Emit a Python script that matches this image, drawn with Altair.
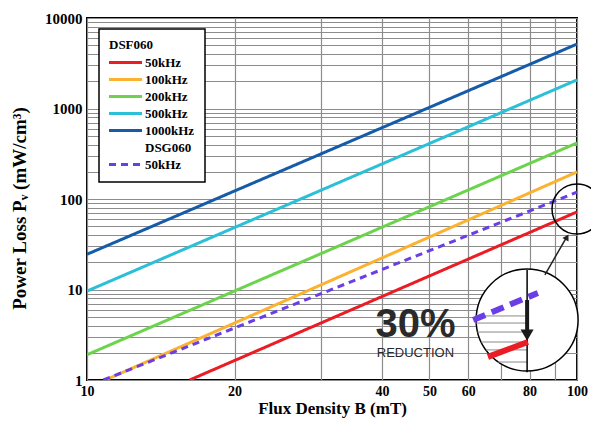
import altair as alt
import pandas as pd

# ---- legend / series definitions ----
legend_domain = ["50kHz", "100kHz", "200kHz", "500kHz", "1000kHz", "DSG060", "DSG 50kHz"]
legend_colors = ["#ea1c24", "#fdb22f", "#6cd44c", "#2bbfd8", "#155ba9", "#ffffff", "#6a3ee6"]
legend_dashes = [[1, 0], [1, 0], [1, 0], [1, 0], [1, 0], [1, 0], [7, 5]]

# ---- data (straight lines on log-log axes) ----
line_names = ["50kHz", "100kHz", "200kHz", "500kHz", "1000kHz", "DSG 50kHz"]
b_start = [16.2, 10.9, 10, 10, 10, 10.8]
p_start = [1.0, 1.0, 1.9, 9.6, 24.5, 1.0]
b_end = [100, 100, 100, 100, 100, 100]
p_end = [72, 199, 416, 2070, 5150, 119]

# axis ticks
x_ticks = [10, 20, 30, 40, 50, 60, 70, 80, 90, 100]
x_labels = [10, 20, 40, 50, 60, 80, 100]
y_ticks = [m * 10 ** e for e in range(4) for m in range(1, 10)] + [10000]
y_labels = [1, 10, 100, 1000, 10000]

# ---- inset annotation (data coordinates) ----
small_circle_b, small_circle_p = [100], [77.5]
big_circle_b, big_circle_p = [79.1], [4.6]
zoom_purple = {"B": [61.4], "P": [4.6], "B2": [83.2], "P2": [9.15]}
zoom_red = {"B": [65.8], "P": [1.80], "B2": [79.4], "P2": [2.63]}
zoom_vline = {"B": [79.1], "P": [1.22], "P2": [16.4]}
zoom_grid_p = [5.10, 4.26, 3.39, 2.63, 2.15, 1.58]
zoom_grid_b = [62.2, 62.2, 62.6, 63.7, 65.2, 69.0]
drop_arrow = {"B": [79.1], "P": [7.65], "P2": [3.3]}
drop_head = {"B": [79.1], "P": [3.14]}
pointer = {"B": [86.0], "P": [14.5], "B2": [95.0], "P2": [37.0]}
pointer_head = {"B": [95.4], "P": [38.0]}
pct_text = {"B": [46.8], "P": [4.1], "t": ["30%"]}
red_text = {"B": [46.8], "P": [2.0], "t": ["REDUCTION"]}

rows = []
for n, b0, p0, b1, p1 in zip(line_names, b_start, p_start, b_end, p_end):
    rows.append({"series": n, "B": b0, "P": p0, "o": 0})
    rows.append({"series": n, "B": b1, "P": p1, "o": 1})
df = pd.DataFrame(rows)

SERIF = "Liberation Serif"
xscale = alt.Scale(type="log", domain=[10, 100], nice=False)
yscale = alt.Scale(type="log", domain=[1, 10000], nice=False)

label_x_expr = "indexof(" + str(x_labels) + ", datum.value) >= 0 ? format(datum.value, 'd') : ''"
label_y_expr = "indexof(" + str(y_labels) + ", datum.value) >= 0 ? format(datum.value, 'd') : ''"

xaxis = alt.Axis(values=x_ticks, labelExpr=label_x_expr, title="Flux Density B (mT)",
                 grid=True, ticks=False, domain=False, labelOverlap=False,
                 labelFont=SERIF, labelFontSize=14, labelFontWeight="bold", labelColor="black",
                 labelPadding=4, labelFlush=False,
                 titleFont=SERIF, titleFontSize=17, titleFontWeight="bold", titleColor="black",
                 titlePadding=2)
yaxis = alt.Axis(values=y_ticks, labelExpr=label_y_expr, title="Power Loss P\u1d65 (mW/cm\u00b3)",
                 grid=True, ticks=False, domain=False, labelOverlap=False,
                 labelFont=SERIF, labelFontSize=15, labelFontWeight="bold", labelColor="black",
                 labelPadding=5, labelFlush=False,
                 titleFont=SERIF, titleFontSize=19, titleFontWeight="bold", titleColor="black",
                 titlePadding=15, titleY=190)


def X(f):
    return alt.X(f, type="quantitative", scale=xscale, axis=xaxis)


def Y(f):
    return alt.Y(f, type="quantitative", scale=yscale, axis=yaxis)


leg = alt.Legend(title="DSF060", orient="none", legendX=12, legendY=11,
                 fillColor="white", strokeColor="black", padding=10,
                 titleFont=SERIF, titleFontSize=13, titleFontWeight="bold", titleColor="black",
                 titlePadding=3,
                 labelFont=SERIF, labelFontSize=13, labelFontWeight="bold", labelColor="black",
                 labelOffset=21, rowPadding=2,
                 symbolType="M-1.25,0H4.25", symbolSize=144, symbolStrokeWidth=3,
                 labelExpr="datum.label == 'DSG 50kHz' ? '50kHz' : datum.label",
                 zindex=1)

lines = alt.Chart(df).mark_line(strokeWidth=3, clip=True).encode(
    x=X("B"), y=Y("P"),
    color=alt.Color("series:N", scale=alt.Scale(domain=legend_domain, range=legend_colors), legend=leg),
    strokeDash=alt.StrokeDash("series:N", scale=alt.Scale(domain=legend_domain, range=legend_dashes), legend=leg),
    order="o:Q",
)

small_circle = alt.Chart(pd.DataFrame({"B": small_circle_b, "P": small_circle_p})).mark_point(
    shape="circle", size=2500, filled=False, stroke="black", strokeWidth=1.5, opacity=1
).encode(x=X("B"), y=Y("P"))

big_circle = alt.Chart(pd.DataFrame({"B": big_circle_b, "P": big_circle_p})).mark_point(
    shape="circle", size=10400, filled=True, fill="white", stroke="black", strokeWidth=1.5, opacity=1
).encode(x=X("B"), y=Y("P"))

zgrid = alt.Chart(pd.DataFrame({"B": zoom_grid_b, "B2": [79.1] * len(zoom_grid_b), "P": zoom_grid_p})).mark_rule(
    color="#8a8a8a", strokeWidth=1
).encode(x=X("B"), x2="B2", y=Y("P"))

zvline = alt.Chart(pd.DataFrame(zoom_vline)).mark_rule(color="black", strokeWidth=1.5).encode(
    x=X("B"), y=Y("P"), y2="P2")

zpurple = alt.Chart(pd.DataFrame(zoom_purple)).mark_rule(
    color="#6a3ee6", strokeWidth=6, strokeDash=[13, 7]).encode(x=X("B"), x2="B2", y=Y("P"), y2="P2")

zred = alt.Chart(pd.DataFrame(zoom_red)).mark_rule(color="#ea1c24", strokeWidth=6).encode(
    x=X("B"), x2="B2", y=Y("P"), y2="P2")

darrow = alt.Chart(pd.DataFrame(drop_arrow)).mark_rule(color="#1a1a1a", strokeWidth=4).encode(
    x=X("B"), y=Y("P"), y2="P2")
dhead = alt.Chart(pd.DataFrame(drop_head)).mark_point(
    shape="triangle-down", size=170, filled=True, color="#1a1a1a", opacity=1).encode(x=X("B"), y=Y("P"))

parrow = alt.Chart(pd.DataFrame(pointer)).mark_rule(color="#222222", strokeWidth=1.5).encode(
    x=X("B"), x2="B2", y=Y("P"), y2="P2")
phead = alt.Chart(pd.DataFrame(pointer_head)).mark_point(
    shape="triangle-up", size=50, filled=True, color="#222222", opacity=1, angle=30).encode(x=X("B"), y=Y("P"))

t30 = alt.Chart(pd.DataFrame(pct_text)).mark_text(
    font="Liberation Sans", fontSize=40, fontWeight="bold", color="#2a2a2a", baseline="middle", align="center"
).encode(x=X("B"), y=Y("P"), text="t:N")
tred = alt.Chart(pd.DataFrame(red_text)).mark_text(
    font="Liberation Sans", fontSize=13, color="#2a2a2a", baseline="middle", align="center"
).encode(x=X("B"), y=Y("P"), text="t:N")

chart = alt.layer(
    lines, small_circle, big_circle, zgrid, zvline, zpurple, zred, darrow, dhead, parrow, phead, t30, tred
).properties(
    width=490, height=362,
    autosize=alt.AutoSizeParams(type="none"),
    padding={"left": 79, "top": 10, "right": 14, "bottom": 38},
    background="white",
).configure_view(
    stroke="black", strokeWidth=2
).configure_axis(
    gridColor="#8c8c8c", gridWidth=1.2, gridOpacity=1
).configure_legend(
    strokeWidth=1.5
)

chart.save("out.html", embed_options={"renderer": "svg", "actions": False})
